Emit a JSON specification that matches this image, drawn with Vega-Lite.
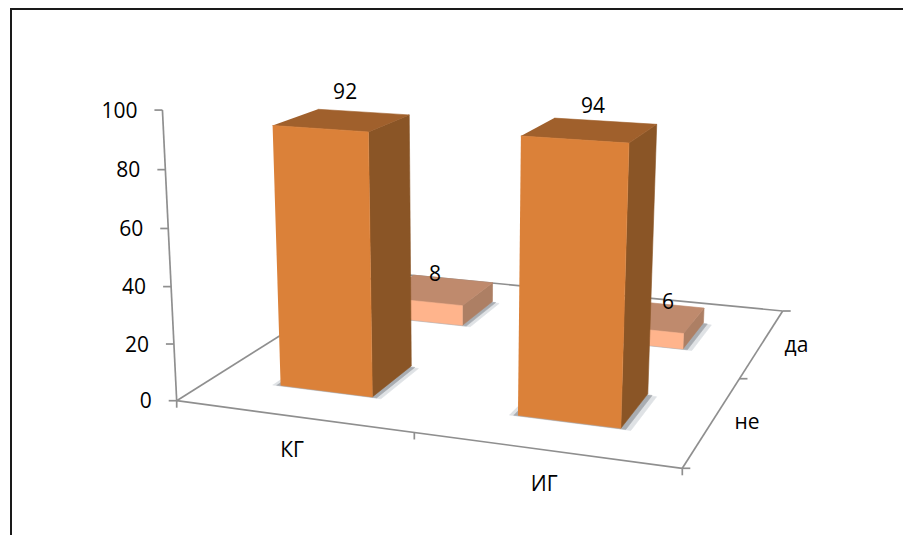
{
  "$schema": "https://vega.github.io/schema/vega-lite/v6.json",
  "width": 903,
  "height": 535,
  "padding": 0,
  "autosize": "none",
  "background": "white",
  "config": {"view": {"stroke": null}},
  "params": [
    {"name": "floorA", "value": 428.31},
    {"name": "floorB", "value": 313.13},
    {"name": "floorC", "value": 176.7},
    {"name": "floorD", "value": 14.55},
    {"name": "floorE", "value": -50.43},
    {"name": "floorF", "value": 400.7},
    {"name": "floorG", "value": -0.11328},
    {"name": "floorH", "value": 0.28633}
  ],
  "datasets": {
    "bars": [
      {"group": "КГ", "answer": "да", "value": 8},
      {"group": "ИГ", "answer": "да", "value": 6},
      {"group": "КГ", "answer": "не", "value": 92},
      {"group": "ИГ", "answer": "не", "value": 94}
    ],
    "frame": [
      {"edge": "value", "n": 0, "u": 0, "v": 0, "w": 0},
      {"edge": "value", "n": 1, "u": 0, "v": 0, "w": 100},
      {"edge": "front", "n": 0, "u": 0, "v": 0, "w": 0},
      {"edge": "front", "n": 1, "u": 1, "v": 0, "w": 0},
      {"edge": "right", "n": 0, "u": 1, "v": 0, "w": 0},
      {"edge": "right", "n": 1, "u": 1, "v": 1, "w": 0},
      {"edge": "back", "n": 0, "u": 1, "v": 1, "w": 0},
      {"edge": "back", "n": 1, "u": 0, "v": 1, "w": 0},
      {"edge": "left", "n": 0, "u": 0, "v": 1, "w": 0},
      {"edge": "left", "n": 1, "u": 0, "v": 0, "w": 0}
    ],
    "ticks": [
      {"axis": "value", "u": 0, "v": 0, "w": 0},
      {"axis": "value", "u": 0, "v": 0, "w": 20},
      {"axis": "value", "u": 0, "v": 0, "w": 40},
      {"axis": "value", "u": 0, "v": 0, "w": 60},
      {"axis": "value", "u": 0, "v": 0, "w": 80},
      {"axis": "value", "u": 0, "v": 0, "w": 100},
      {"axis": "category", "u": 0, "v": 0, "w": 0},
      {"axis": "category", "u": 0.5, "v": 0, "w": 0},
      {"axis": "category", "u": 1, "v": 0, "w": 0},
      {"axis": "depth", "u": 1, "v": 0, "w": 0},
      {"axis": "depth", "u": 1, "v": 0.5, "w": 0},
      {"axis": "depth", "u": 1, "v": 1, "w": 0}
    ],
    "valueLabels": [
      {"label": "0", "w": 0},
      {"label": "20", "w": 20},
      {"label": "40", "w": 40},
      {"label": "60", "w": 60},
      {"label": "80", "w": 80},
      {"label": "100", "w": 100}
    ],
    "axisLabels": [
      {"label": "КГ", "axis": "category", "u": 0.25, "v": 0},
      {"label": "ИГ", "axis": "category", "u": 0.75, "v": 0},
      {"label": "не", "axis": "depth", "u": 1, "v": 0.25},
      {"label": "да", "axis": "depth", "u": 1, "v": 0.75}
    ]
  },
  "layer": [
    {
      "data": {"values": [{"edge": "top"}]},
      "mark": {"type": "rule", "color": "#1a1a1a", "strokeWidth": 2},
      "encoding": {
        "x": {"datum": 10, "type": "quantitative", "scale": {"domain": [0, 903], "range": [0, 903], "nice": false, "zero": false}, "axis": null},
        "y": {"datum": 9, "type": "quantitative", "scale": {"domain": [535, 0], "nice": false, "zero": false}, "axis": null},
        "x2": {"datum": 903}
      }
    },
    {
      "data": {"values": [{"edge": "left"}]},
      "mark": {"type": "rule", "color": "#1a1a1a", "strokeWidth": 2},
      "encoding": {
        "x": {"datum": 11, "type": "quantitative", "axis": null},
        "y": {"datum": 8, "type": "quantitative", "axis": null},
        "y2": {"datum": 535}
      }
    },
    {
      "data": {"name": "frame"},
      "transform": [
        {"calculate": "1+floorG*datum.u+floorH*datum.v", "as": "den"},
        {"calculate": "(floorA*datum.u+floorB*datum.v+floorC)/datum.den", "as": "fx"},
        {"calculate": "(floorD*datum.u+floorE*datum.v+floorF)/datum.den", "as": "fy"},
        {"calculate": "(0.0000939*datum.fy+0.0131)*(datum.w/100)*(0.969+0.031*datum.w/100)", "as": "s"},
        {"calculate": "datum.fx+(datum.fx-458)*datum.s", "as": "px"},
        {"calculate": "datum.fy+(datum.fy-6130)*datum.s", "as": "py"}
      ],
      "mark": {"type": "line", "color": "#8f8f8f", "strokeWidth": 1.7},
      "encoding": {
        "x": {"field": "px", "type": "quantitative", "axis": null},
        "y": {"field": "py", "type": "quantitative", "axis": null},
        "detail": {"field": "edge"},
        "order": {"field": "n"}
      }
    },
    {
      "data": {"name": "ticks"},
      "transform": [
        {"calculate": "1+floorG*datum.u+floorH*datum.v", "as": "den"},
        {"calculate": "(floorA*datum.u+floorB*datum.v+floorC)/datum.den", "as": "fx"},
        {"calculate": "(floorD*datum.u+floorE*datum.v+floorF)/datum.den", "as": "fy"},
        {"calculate": "(0.0000939*datum.fy+0.0131)*(datum.w/100)*(0.969+0.031*datum.w/100)", "as": "s"},
        {"calculate": "datum.fx+(datum.fx-458)*datum.s", "as": "px"},
        {"calculate": "datum.fy+(datum.fy-6130)*datum.s", "as": "py"},
        {"calculate": "datum.px+(datum.axis=='value'?-8:datum.axis=='depth'?8:0)", "as": "tx"},
        {"calculate": "datum.py+(datum.axis=='category'?7:0)", "as": "ty"}
      ],
      "mark": {"type": "rule", "color": "#8f8f8f", "strokeWidth": 1.7},
      "encoding": {
        "x": {"field": "px", "type": "quantitative", "axis": null},
        "y": {"field": "py", "type": "quantitative", "axis": null},
        "x2": {"field": "tx"},
        "y2": {"field": "ty"}
      }
    },
    {
      "data": {"name": "bars"},
      "transform": [
        {"calculate": "[{f:'shadowOuter',n:0,a:-0.08,b:-0.02,t:0},{f:'shadowOuter',n:1,a:1.1,b:-0.02,t:0},{f:'shadowOuter',n:2,a:1.1,b:0.95,t:0},{f:'shadowOuter',n:3,a:-0.08,b:0.95,t:0},{f:'shadowInner',n:0,a:-0.04,b:-0.012,t:0},{f:'shadowInner',n:1,a:1.05,b:-0.012,t:0},{f:'shadowInner',n:2,a:1.05,b:0.97,t:0},{f:'shadowInner',n:3,a:-0.04,b:0.97,t:0},{f:'side',n:0,a:1,b:0,t:0},{f:'side',n:1,a:1,b:1,t:0},{f:'side',n:2,a:1,b:1,t:1},{f:'side',n:3,a:1,b:0,t:1},{f:'top',n:0,a:0,b:0,t:1},{f:'top',n:1,a:1,b:0,t:1},{f:'top',n:2,a:1,b:1,t:1},{f:'top',n:3,a:0,b:1,t:1},{f:'front',n:0,a:0,b:0,t:0},{f:'front',n:1,a:1,b:0,t:0},{f:'front',n:2,a:1,b:0,t:1},{f:'front',n:3,a:0,b:0,t:1}]", "as": "corner"},
        {"flatten": ["corner"]},
        {"calculate": "datum.corner.n", "as": "n"},
        {"calculate": "indexof(['КГ','ИГ'],datum.group)*0.5+0.15+0.2*datum.corner.a", "as": "u"},
        {"calculate": "indexof(['не','да'],datum.answer)*0.5+0.15+0.2*datum.corner.b", "as": "v"},
        {"calculate": "datum.value*datum.corner.t", "as": "w"},
        {"calculate": "indexof(datum.corner.f,'shadow')==0?datum.corner.f:datum.answer+'-'+datum.corner.f", "as": "shade"},
        {"calculate": "datum.group+datum.answer+datum.corner.f", "as": "faceId"},
        {"calculate": "1+floorG*datum.u+floorH*datum.v", "as": "den"},
        {"calculate": "(floorA*datum.u+floorB*datum.v+floorC)/datum.den", "as": "fx"},
        {"calculate": "(floorD*datum.u+floorE*datum.v+floorF)/datum.den", "as": "fy"},
        {"calculate": "(0.0000939*datum.fy+0.0131)*(datum.w/100)*(0.969+0.031*datum.w/100)", "as": "s"},
        {"calculate": "datum.fx+(datum.fx-458)*datum.s", "as": "px"},
        {"calculate": "datum.fy+(datum.fy-6130)*datum.s", "as": "py"}
      ],
      "mark": {"type": "line", "strokeWidth": 0.6, "interpolate": "linear"},
      "encoding": {
        "x": {"field": "px", "type": "quantitative", "axis": null},
        "y": {"field": "py", "type": "quantitative", "axis": null},
        "detail": {"field": "faceId"},
        "order": {"field": "n"},
        "fill": {
          "field": "shade", "type": "nominal", "legend": null,
          "scale": {
            "domain": ["shadowOuter", "shadowInner", "не-front", "не-side", "не-top", "да-front", "да-side", "да-top"],
            "range": ["#dfe2e5", "#a9adb2", "#db8139", "#8a5526", "#a0602c", "#ffb48c", "#ad7f64", "#bf8a6d"]
          }
        },
        "stroke": {
          "field": "shade", "type": "nominal", "legend": null,
          "scale": {
            "domain": ["shadowOuter", "shadowInner", "не-front", "не-side", "не-top", "да-front", "да-side", "да-top"],
            "range": ["#dfe2e5", "#a9adb2", "#db8139", "#8a5526", "#a0602c", "#ffb48c", "#ad7f64", "#bf8a6d"]
          }
        }
      }
    },
    {
      "data": {"name": "bars"},
      "transform": [
        {"calculate": "indexof(['КГ','ИГ'],datum.group)*0.5+0.25", "as": "u"},
        {"calculate": "indexof(['не','да'],datum.answer)*0.5+0.25", "as": "v"},
        {"calculate": "datum.value", "as": "w"},
        {"calculate": "1+floorG*datum.u+floorH*datum.v", "as": "den"},
        {"calculate": "(floorA*datum.u+floorB*datum.v+floorC)/datum.den", "as": "fx"},
        {"calculate": "(floorD*datum.u+floorE*datum.v+floorF)/datum.den", "as": "fy"},
        {"calculate": "(0.0000939*datum.fy+0.0131)*(datum.w/100)*(0.969+0.031*datum.w/100)", "as": "s"},
        {"calculate": "datum.fx+(datum.fx-458)*datum.s", "as": "px"},
        {"calculate": "datum.fy+(datum.fy-6130)*datum.s", "as": "py"},
        {"calculate": "datum.px+(datum.answer=='не'?(datum.group=='КГ'?3:3):(datum.group=='КГ'?-2:19))", "as": "lx"},
        {"calculate": "datum.py+(datum.answer=='не'?(datum.group=='КГ'?-27:-23):(datum.group=='КГ'?-15:-13))", "as": "ly"}
      ],
      "mark": {"type": "text", "font": "Open Sans", "fontSize": 21, "color": "#000000", "align": "center", "baseline": "middle"},
      "encoding": {
        "x": {"field": "lx", "type": "quantitative", "axis": null},
        "y": {"field": "ly", "type": "quantitative", "axis": null},
        "text": {"field": "value", "type": "quantitative"}
      }
    },
    {
      "data": {"name": "valueLabels"},
      "transform": [
        {"calculate": "(0.0000939*floorF+0.0131)*(datum.w/100)*(0.969+0.031*datum.w/100)", "as": "s"},
        {"calculate": "floorC+(floorC-458)*datum.s-25", "as": "lx"},
        {"calculate": "floorF+(floorF-6130)*datum.s+1.5", "as": "ly"}
      ],
      "mark": {"type": "text", "font": "Open Sans", "fontSize": 21, "color": "#000000", "align": "right", "baseline": "middle"},
      "encoding": {
        "x": {"field": "lx", "type": "quantitative", "axis": null},
        "y": {"field": "ly", "type": "quantitative", "axis": null},
        "text": {"field": "label", "type": "nominal"}
      }
    },
    {
      "data": {"name": "axisLabels"},
      "transform": [
        {"calculate": "1+floorG*datum.u+floorH*datum.v", "as": "den"},
        {"calculate": "(floorA*datum.u+floorB*datum.v+floorC)/datum.den", "as": "fx"},
        {"calculate": "(floorD*datum.u+floorE*datum.v+floorF)/datum.den", "as": "fy"},
        {"calculate": "datum.fx+(datum.axis=='depth'?34:0)", "as": "lx"},
        {"calculate": "datum.fy+(datum.axis=='depth'?3:35)", "as": "ly"}
      ],
      "mark": {"type": "text", "font": "Open Sans", "fontSize": 21, "color": "#000000", "align": "center", "baseline": "middle"},
      "encoding": {
        "x": {"field": "lx", "type": "quantitative", "axis": null},
        "y": {"field": "ly", "type": "quantitative", "axis": null},
        "text": {"field": "label", "type": "nominal"}
      }
    }
  ]
}
